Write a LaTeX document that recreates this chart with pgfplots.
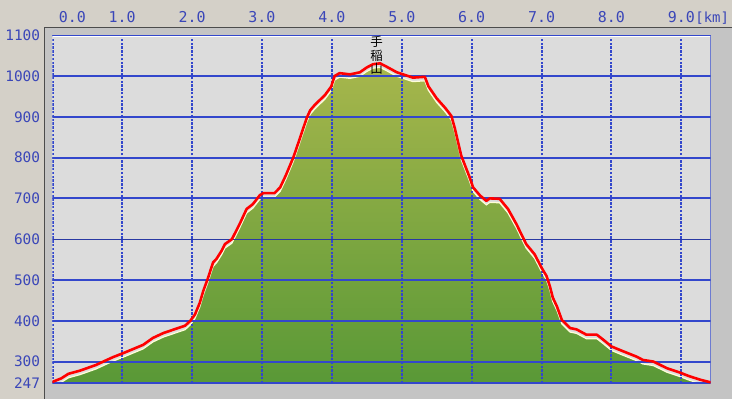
\documentclass[border=0pt]{standalone}
\usepackage{pgfplots}
\pgfplotsset{compat=1.18}
\usepackage{fontspec}
\newfontfamily\lbl{DejaVu Sans Mono}
\newfontfamily\cjk{Noto Sans CJK JP}
\definecolor{winbg}{HTML}{D4D0C8}
\definecolor{panel}{HTML}{C4C4C4}
\definecolor{plotbg}{HTML}{DCDCDC}
\definecolor{gridblue}{HTML}{3347CC}
\definecolor{lblblue}{HTML}{3A46B8}
\definecolor{fillTop}{HTML}{A6B64C}
\definecolor{fillBot}{HTML}{589836}
\begin{document}
\begin{tikzpicture}
\path[use as bounding box] (0,0) rectangle (732bp,399bp);
\fill[winbg] (0,0) rectangle (732bp,399bp);
\fill[panel] (44bp,0) rectangle (732bp,371bp);
\draw[black!70, line width=1bp] (44bp,0) -- (44bp,371bp) -- (732bp,371bp);
\begin{axis}[
  at={(52.3bp,15.8bp)}, anchor=south west,
  scale only axis, width=658.4bp, height=348bp,
  xmin=0, xmax=9.42, ymin=247, ymax=1100,
  axis line style={draw=none},
  axis background/.style={fill=plotbg},
  major tick length=0pt,
  xtick={0,1,...,9},
  xticklabels={\hspace*{40bp}0.0,1.0,2.0,3.0,4.0,5.0,6.0,7.0,8.0,9.0\rlap{\hspace{0.5bp}\fontsize{14}{14}\selectfont[km]}},
  xticklabel pos=right,
  xticklabel style={anchor=base, inner sep=0pt, yshift=12.5bp, font=\lbl\fontsize{15}{15}\selectfont, text=lblblue},
  ytick={247,300,400,500,600,700,800,900,1000,1100},
  yticklabels={247,300,400,500,600,700,800,900,1000,1100},
  yticklabel style={anchor=east, inner sep=0pt, xshift=-12bp, font=\lbl\fontsize{14.5}{14.5}\selectfont, text=lblblue},
  clip=true,
]
\addplot[draw=white!85!yellow, line width=1.2bp, top color=fillTop, bottom color=fillBot, yshift=-4bp] table[x=x,y=e] {
x e
0.00 250
0.13 259
0.23 270
0.40 278
0.63 292
0.73 300
0.87 311
1.02 321
1.16 331
1.30 341
1.44 358
1.59 370
1.78 381
1.90 388
1.97 399
2.04 415
2.11 444
2.16 473
2.23 506
2.30 543
2.35 552
2.42 571
2.47 588
2.57 600
2.68 637
2.78 674
2.87 686
2.97 708
3.02 713
3.18 713
3.26 727
3.34 756
3.45 801
3.54 846
3.64 897
3.69 916
3.76 930
3.90 953
3.99 974
4.04 1000
4.11 1007
4.26 1004
4.40 1009
4.50 1021
4.59 1029
4.69 1031
4.78 1023
4.93 1009
5.02 1004
5.16 996
5.33 998
5.38 975
5.50 945
5.62 922
5.71 902
5.76 871
5.85 805
5.97 752
6.02 727
6.12 707
6.21 694
6.26 700
6.40 699
6.52 674
6.64 637
6.78 588
6.90 563
7.00 530
7.07 510
7.12 484
7.16 457
7.22 435
7.29 402
7.41 382
7.50 379
7.64 366
7.79 366
7.88 354
8.00 337
8.17 325
8.36 312
8.45 304
8.60 300
8.79 284
8.98 273
9.10 265
9.26 256
9.42 249
} \closedcycle;
\pgfplotsinvokeforeach{300,400,500,700,800,900,1000}{
  \draw[gridblue, line width=2bp] (axis cs:0,#1) -- (axis cs:9.42,#1);
}
\draw[gridblue!80!black, line width=1bp] (axis cs:0,600) -- (axis cs:9.42,600);
\pgfplotsinvokeforeach{1,2,3,4,5,6,7,8,9}{
  \draw[gridblue, line width=2bp, dash pattern=on 2.4bp off 1.4bp] (axis cs:#1,247) -- (axis cs:#1,1100);
}
\draw[gridblue, line width=2bp, dash pattern=on 2.4bp off 1.4bp] (axis cs:0.015,247) -- (axis cs:0.015,1100);
\draw[white, line width=1bp] (axis cs:0,1096) -- (axis cs:9.42,1096);
\draw[gridblue, line width=2bp] (axis cs:0,1100) -- (axis cs:9.42,1100);
\draw[gridblue, line width=2bp] (axis cs:0,247) -- (axis cs:9.42,247);
\draw[gridblue, line width=1.5bp] (axis cs:9.42,247) -- (axis cs:9.42,1100);
\addplot[red, line width=2.6bp, line join=round] table[x=x,y=e] {
x e
0.00 250
0.13 259
0.23 270
0.40 278
0.63 292
0.73 300
0.87 311
1.02 321
1.16 331
1.30 341
1.44 358
1.59 370
1.78 381
1.90 388
1.97 399
2.04 415
2.11 444
2.16 473
2.23 506
2.30 543
2.35 552
2.42 571
2.47 588
2.57 600
2.68 637
2.78 674
2.87 686
2.97 708
3.02 713
3.18 713
3.26 727
3.34 756
3.45 801
3.54 846
3.64 897
3.69 916
3.76 930
3.90 953
3.99 974
4.04 1000
4.11 1007
4.26 1004
4.40 1009
4.50 1021
4.59 1029
4.69 1031
4.78 1023
4.93 1009
5.02 1004
5.16 996
5.33 998
5.38 975
5.50 945
5.62 922
5.71 902
5.76 871
5.85 805
5.97 752
6.02 727
6.12 707
6.21 694
6.26 700
6.40 699
6.52 674
6.64 637
6.78 588
6.90 563
7.00 530
7.07 510
7.12 484
7.16 457
7.22 435
7.29 402
7.41 382
7.50 379
7.64 366
7.79 366
7.88 354
8.00 337
8.17 325
8.36 312
8.45 304
8.60 300
8.79 284
8.98 273
9.10 265
9.26 256
9.42 249
};
\node[font=\cjk\fontsize{12.5}{13.5}\selectfont, align=center, inner sep=0pt] at (axis cs:4.64,1050) {手\\稲\\山};
\end{axis}
\end{tikzpicture}
\end{document}
